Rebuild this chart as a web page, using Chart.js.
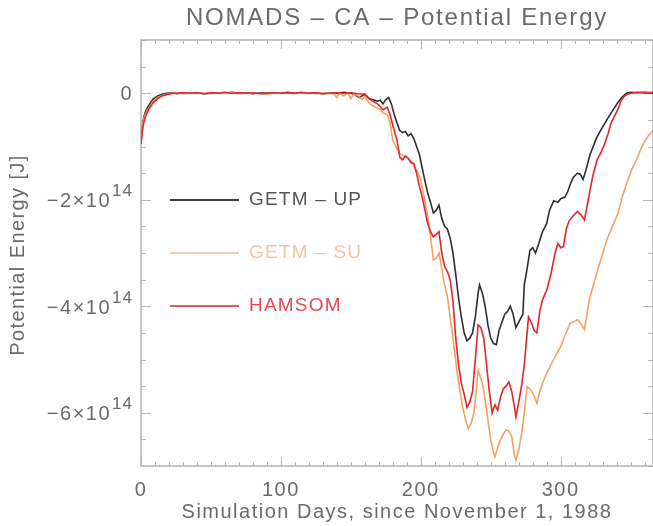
<!DOCTYPE html>
<html>
<head>
<meta charset="utf-8">
<script src="https://cdn.jsdelivr.net/npm/chart.js@4.4.0/dist/chart.umd.min.js"></script>
<style>
    html, body { margin: 0; padding: 0; background: #fff; }
    #wrap { width: 653px; height: 526px; }
</style>
</head>
<body>
<div id="wrap"><canvas id="chart" width="653" height="526"></canvas></div>
<script>
// Potential energy in units of 1e14 J, day since Nov 1 1988
const upDays = [0,1,2,3,5,7,9,12,15,18,22,26,30,35,40,45,50,55,60,65,70,75,80,85,90,95,100,105,110,115,120,125,130,135,140,145,150,153,156,158,160,163,166,169,171,173,175,177,179,181,183,185,187,189,191,193,195,197,199,201,203,205,207,209,211,213,215,217,219,221,223,225,227,229,231,233,235,237,239,241,242,244,246,248,250,252,254,256,258,260,262,264,266,268,270,272,273,274,276,278,280,282,284,287,290,292,295,298,300,303,305,307,309,312,314,316,318,321,324,326,329,333,337,341,344,347,350,355,360,366];
const upVals = [-0.92,-0.6,-0.45,-0.36,-0.25,-0.17,-0.1,-0.05,-0.02,0.0,0.01,-0.01,0.01,0.0,0.01,-0.01,0.0,0.01,0.0,0.02,0.0,0.01,-0.01,0.01,0.0,0.01,0.0,0.02,0.0,0.01,0.0,0.01,-0.01,0.01,0.0,0.02,0.0,-0.03,-0.08,-0.05,-0.02,-0.1,-0.12,-0.15,-0.13,-0.2,-0.12,-0.08,-0.2,-0.4,-0.56,-0.7,-0.74,-0.72,-0.8,-0.76,-0.85,-1.0,-1.15,-1.4,-1.65,-1.88,-2.05,-2.25,-2.2,-2.1,-2.35,-2.5,-2.55,-2.72,-3.0,-3.4,-3.85,-4.2,-4.5,-4.65,-4.6,-4.5,-4.2,-3.75,-3.6,-3.75,-4.0,-4.35,-4.6,-4.7,-4.72,-4.45,-4.3,-4.15,-4.1,-4.0,-4.15,-4.4,-4.3,-4.2,-4.15,-3.6,-3.3,-2.95,-2.9,-3.0,-2.85,-2.6,-2.45,-2.2,-2.02,-2.05,-1.98,-1.95,-1.85,-1.7,-1.58,-1.5,-1.52,-1.62,-1.45,-1.15,-0.95,-0.82,-0.68,-0.5,-0.33,-0.17,-0.07,0.0,0.02,0.01,0.02,0.0];

const suDays = [0,1,2,3,5,7,9,12,15,18,21,25,30,35,40,45,50,55,60,65,70,75,80,85,90,95,100,105,110,115,120,125,130,135,138,140,142,145,148,150,152,155,158,160,163,166,169,171,173,176,178,180,183,185,188,190,192,195,198,200,202,205,207,209,211,213,215,217,219,221,223,226,228,230,232,234,236,238,240,241,243,245,247,250,252,253,255,257,259,261,263,265,267,268,270,272,274,276,278,280,282,283,285,288,291,295,298,300,303,307,310,312,315,317,319,321,325,329,333,337,341,344,348,351,355,358,362,366];
const suVals = [-0.9,-0.62,-0.48,-0.4,-0.3,-0.22,-0.15,-0.08,-0.04,-0.02,0.0,0.01,-0.01,0.0,0.01,0.0,-0.01,0.01,0.0,0.01,-0.01,0.0,0.01,0.0,-0.02,0.01,0.0,0.01,-0.01,0.0,0.01,-0.01,0.0,0.01,-0.02,-0.08,0.0,-0.05,0.01,-0.1,-0.02,-0.04,-0.12,-0.06,-0.18,-0.24,-0.28,-0.3,-0.37,-0.4,-0.55,-0.88,-1.05,-1.13,-1.18,-1.2,-1.25,-1.35,-1.5,-1.63,-1.9,-2.32,-2.7,-3.13,-3.1,-3.0,-3.3,-3.6,-3.82,-4.2,-4.6,-5.25,-5.6,-5.9,-6.13,-6.3,-6.2,-6.0,-5.5,-5.2,-5.35,-5.57,-5.95,-6.51,-6.75,-6.83,-6.65,-6.51,-6.4,-6.32,-6.35,-6.45,-6.8,-6.89,-6.7,-6.4,-6.0,-5.51,-5.55,-5.63,-5.75,-5.82,-5.6,-5.38,-5.2,-5.0,-4.85,-4.76,-4.55,-4.31,-4.28,-4.25,-4.35,-4.44,-4.1,-3.82,-3.45,-3.1,-2.75,-2.5,-2.25,-1.95,-1.63,-1.42,-1.2,-1.0,-0.82,-0.7];

const hamDays = [0,1,2,3,5,7,9,12,15,18,21,25,30,35,40,45,50,55,60,65,70,75,80,85,90,95,100,105,110,115,120,125,130,135,140,145,150,155,160,163,166,169,171,173,176,178,181,183,185,187,189,191,193,195,197,199,201,203,205,207,209,211,213,215,217,219,221,223,225,227,229,231,233,235,237,239,241,243,245,247,249,251,253,255,257,259,261,263,265,267,268,270,272,274,276,277,279,281,283,285,287,290,293,296,298,300,302,304,306,309,312,315,317,319,321,323,326,329,331,334,336,339,341,343,345,347,350,355,360,366];
const hamVals = [-0.95,-0.7,-0.55,-0.45,-0.33,-0.24,-0.17,-0.1,-0.05,-0.03,-0.01,0.0,0.01,0.0,0.01,-0.01,0.01,0.0,0.02,0.0,0.01,0.0,0.01,-0.01,0.0,0.01,0.0,0.01,0.0,0.02,0.0,0.01,-0.01,0.0,0.01,0.0,0.01,-0.01,-0.02,-0.1,-0.15,-0.2,-0.25,-0.31,-0.26,-0.4,-0.7,-0.88,-1.2,-1.25,-1.18,-1.22,-1.3,-1.32,-1.5,-1.75,-1.95,-2.2,-2.45,-2.6,-2.7,-2.65,-2.6,-3.0,-3.25,-3.35,-3.5,-3.9,-4.6,-5.1,-5.45,-5.65,-5.9,-5.8,-5.6,-5.0,-4.35,-4.4,-4.6,-5.1,-5.6,-6.0,-5.85,-5.95,-5.7,-5.55,-5.5,-5.42,-5.6,-5.9,-6.08,-5.8,-5.5,-5.1,-4.5,-4.2,-4.3,-4.45,-4.5,-4.1,-3.88,-3.7,-3.4,-3.0,-2.82,-2.9,-2.88,-2.55,-2.4,-2.3,-2.22,-2.3,-2.38,-2.1,-1.82,-1.55,-1.25,-1.1,-0.98,-0.75,-0.56,-0.4,-0.3,-0.15,-0.07,-0.03,0.0,0.02,0.01,0.02];

const xTickLabels = [0, 100, 200, 300];
const yTickLabels = [0, -2, -4, -6];
const seriesNames = ['GETM – UP', 'GETM – SU', 'HAMSOM'];

const FONT = '"Liberation Sans", Arial, sans-serif';
const AXIS_GRAY = '#b4b4b4';
const TEXT_GRAY = '#6a6a6a';

function toPoints(days, vals) {
    return days.map((d, i) => ({ x: d, y: vals[i] }));
}

// frame with inward IDL-style ticks, drawn under the curves
const framePlugin = {
    id: 'frame',
    beforeDatasetsDraw(chart) {
        const { ctx, chartArea: a, scales } = chart;
        ctx.save();
        ctx.strokeStyle = AXIS_GRAY;
        ctx.lineWidth = 1.5;
        ctx.strokeRect(a.left, a.top, a.right - a.left, a.bottom - a.top);
        ctx.lineWidth = 1;
        ctx.beginPath();
        for (let d = 0; d <= 360; d += 10) {
            const px = Math.round(scales.x.getPixelForValue(d)) + 0.5;
            const len = d % 100 === 0 ? 9 : 4;
            ctx.moveTo(px, a.bottom); ctx.lineTo(px, a.bottom - len);
            ctx.moveTo(px, a.top); ctx.lineTo(px, a.top + len);
        }
        for (let v = -7; v <= 1; v += 0.5) {
            const py = Math.round(scales.y.getPixelForValue(v)) + 0.5;
            const len = v % 2 === 0 ? 10 : 5;
            ctx.moveTo(a.left, py); ctx.lineTo(a.left + len, py);
            ctx.moveTo(a.right, py); ctx.lineTo(a.right - len, py);
        }
        ctx.stroke();
        ctx.restore();
    }
};

// titles, tick labels and the in-plot legend
const textPlugin = {
    id: 'texts',
    afterDraw(chart) {
        const { ctx, chartArea: a, scales } = chart;
        const cx = (a.left + a.right) / 2;
        ctx.save();
        ctx.fillStyle = TEXT_GRAY;
        ctx.textBaseline = 'middle';

        ctx.textAlign = 'center';
        ctx.font = '24px ' + FONT;
        ctx.letterSpacing = '1.8px';
        ctx.fillText('NOMADS – CA – Potential Energy', cx, 18);

        ctx.font = '20px ' + FONT;
        ctx.letterSpacing = '1.5px';
        ctx.fillText('Simulation Days, since November 1, 1988', cx, 512);

        for (const d of xTickLabels) {
            ctx.fillText(String(d), scales.x.getPixelForValue(d), 490);
        }

        ctx.textAlign = 'right';
        for (const v of yTickLabels) {
            const py = scales.y.getPixelForValue(v);
            if (v === 0) {
                ctx.font = '20px ' + FONT;
                ctx.fillText('0', 133, py + 1);
                continue;
            }
            ctx.font = '17px ' + FONT;
            ctx.letterSpacing = '1px';
            ctx.fillText('14', 133, py - 8);
            const w = ctx.measureText('14').width;
            ctx.font = '20px ' + FONT;
            ctx.letterSpacing = '1.5px';
            ctx.fillText('−' + (-v) + '×10', 133 - w - 1, py + 2);
        }

        ctx.save();
        ctx.translate(18, 255);
        ctx.rotate(-Math.PI / 2);
        ctx.textAlign = 'center';
        ctx.font = '20px ' + FONT;
        ctx.letterSpacing = '1.4px';
        ctx.fillText('Potential Energy [J]', 0, 0);
        ctx.restore();

        // legend
        const legendRows = [
            { y: 200, line: '#3c3c3c', text: '#555555' },
            { y: 253, line: '#fbcba6', text: '#f6c3a0' },
            { y: 306, line: '#e65a5e', text: '#e24a50' }
        ];
        ctx.textAlign = 'left';
        ctx.font = '19px ' + FONT;
        ctx.letterSpacing = '1.2px';
        legendRows.forEach((row, i) => {
            ctx.strokeStyle = row.line;
            ctx.lineWidth = 2;
            ctx.beginPath();
            ctx.moveTo(170, row.y);
            ctx.lineTo(239, row.y);
            ctx.stroke();
            ctx.fillStyle = row.text;
            ctx.fillText(seriesNames[i], 249, row.y);
        });
        ctx.restore();
    }
};

new Chart(document.getElementById('chart'), {
    type: 'line',
    data: {
        datasets: [
            {
                label: seriesNames[0],
                data: toPoints(upDays, upVals),
                borderColor: '#2e2e2e',
                borderWidth: 1.6,
                order: 2,
            },
            {
                label: seriesNames[1],
                data: toPoints(suDays, suVals),
                borderColor: '#f4a163',
                borderWidth: 1.6,
                order: 1,
            },
            {
                label: seriesNames[2],
                data: toPoints(hamDays, hamVals),
                borderColor: '#e4252b',
                borderWidth: 1.6,
                order: 0,
            }
        ]
    },
    options: {
        responsive: false,
        animation: false,
        devicePixelRatio: 1,
        layout: { padding: { left: 141, right: 0, top: 40, bottom: 60 } },
        elements: { point: { radius: 0 }, line: { tension: 0 } },
        plugins: {
            legend: { display: false },
            tooltip: { enabled: false },
            title: { display: false }
        },
        scales: {
            x: { type: 'linear', min: 0, max: 366, display: false },
            y: { type: 'linear', min: -7, max: 1, display: false }
        }
    },
    plugins: [framePlugin, textPlugin]
});
</script>
</body>
</html>
